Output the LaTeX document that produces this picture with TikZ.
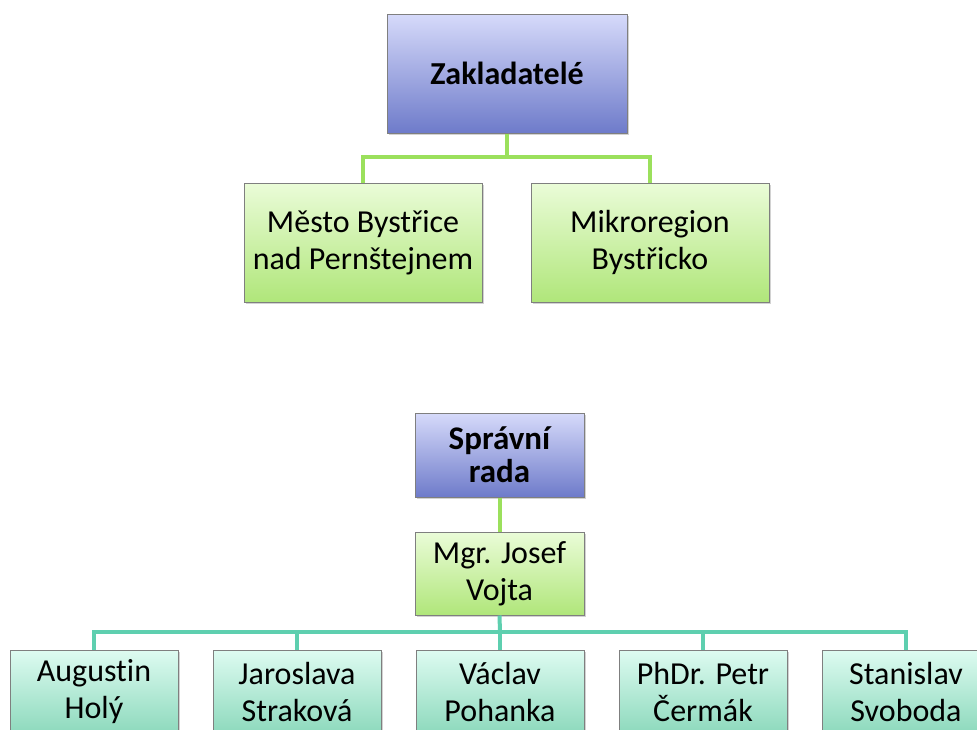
\documentclass[tikz,border=0pt]{standalone}
\usepackage{fontspec}
\setmainfont{Carlito}[RawFeature={-liga;-clig;-dlig;-calt}]
\usetikzlibrary{shadows}
\definecolor{bluetop}{HTML}{D6DAFA}
\definecolor{bluebot}{HTML}{6E7BCA}
\definecolor{greentop}{HTML}{EAFCD8}
\definecolor{greenbot}{HTML}{B0E67A}
\definecolor{tealtop}{HTML}{DEFBF1}
\definecolor{tealbot}{HTML}{8CD9BC}
\definecolor{gline}{HTML}{9BE05C}
\definecolor{tline}{HTML}{5ECFAF}
\definecolor{bordergray}{HTML}{7F7F7F}
\tikzset{
  orgbox/.style={draw=bordergray, line width=1pt, rectangle, align=center, inner sep=2pt,
    drop shadow={opacity=0.35, shadow xshift=1.5pt, shadow yshift=-1.5pt}},
  bluebox/.style={orgbox, top color=bluetop, bottom color=bluebot,
    font=\fontsize{32}{37}\selectfont\bfseries},
  greenbox/.style={orgbox, top color=greentop, bottom color=greenbot,
    font=\fontsize{32}{37}\selectfont},
  tealbox/.style={orgbox, top color=tealtop, bottom color=tealbot,
    font=\fontsize{32}{37}\selectfont, minimum width=168pt, minimum height=84pt},
  greenline/.style={draw=gline, line width=4pt},
  tealline/.style={draw=tline, line width=4pt}
}
\begin{document}
\begin{tikzpicture}[x=1pt,y=-1pt]
\clip (0,0) rectangle (977,729);
\fill[white] (0,0) rectangle (977,729);
% top part
\node[bluebox, minimum width=240pt, minimum height=119pt] (zak) at (507,73.5) {Zakladatelé};
\node[greenbox, minimum width=238pt, minimum height=119pt] (mesto) at (363,242.5) {Město Bystřice\\nad Pernštejnem};
\node[greenbox, minimum width=238pt, minimum height=119pt] (mikro) at (650,242.5) {Mikroregion\\Bystřicko};
\coordinate (j1) at (507,157);
\draw[greenline] (zak.south) -- (j1);
\draw[greenline] (j1) -| (mesto.north);
\draw[greenline] (j1) -| (mikro.north);
% bottom part
\node[bluebox, minimum width=169pt, minimum height=84pt, font=\fontsize{33}{33}\selectfont\bfseries] (sr) at (499.5,455) {Správní\\rada};
\node[greenbox, minimum width=169pt, minimum height=83pt] (mgr) at (499.5,573.5) {Mgr. Josef\\Vojta};
\draw[greenline] (sr.south) -- (mgr.north);
\node[tealbox] (b1) at (94,692) {August\kern0pt in\\Holý};
\node[tealbox] (b2) at (297,692) {Jaroslava\\Straková};
\node[tealbox] (b3) at (500,692) {Václav\\Pohanka};
\node[tealbox] (b4) at (703,692) {PhDr. Petr\\Čermák};
\node[tealbox] (b5) at (906,692) {Stanislav\\Svoboda};
\coordinate (j2) at (500,632);
\draw[tealline] (mgr.south) -- (j2);
\draw[tealline] (j2) -| (b1.north);
\draw[tealline] (j2) -| (b2.north);
\draw[tealline] (j2) -- (b3.north);
\draw[tealline] (j2) -| (b4.north);
\draw[tealline] (j2) -| (b5.north);
\end{tikzpicture}
\end{document}
